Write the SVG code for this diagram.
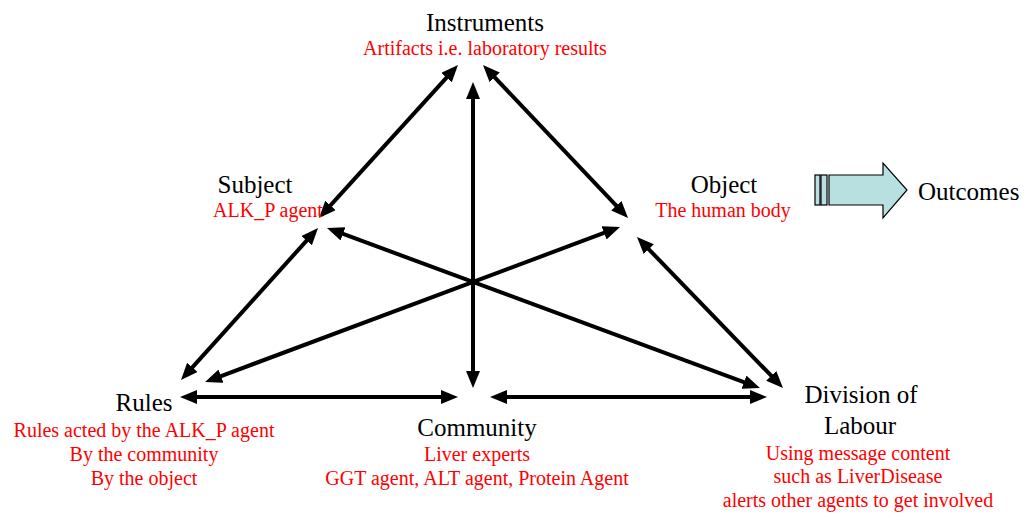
<svg xmlns="http://www.w3.org/2000/svg" width="1024" height="513" viewBox="0 0 1024 513">
  <style>
    .title { font-family: "Liberation Serif", "Times New Roman", serif; font-size: 25px; fill: #000; text-anchor: middle; }
    .note { font-family: "Liberation Serif", "Times New Roman", serif; font-size: 20px; fill: #ff0000; text-anchor: middle; }
    .link { stroke: #000; stroke-width: 4; fill: none; marker-start: url(#head); marker-end: url(#head); }
    .block { fill: #b8e0e0; stroke: #000; stroke-width: 1.2; }
  </style>
  <defs>
    <marker id="head" markerUnits="userSpaceOnUse" markerWidth="17" markerHeight="14" refX="2" refY="7" orient="auto-start-reverse">
      <path d="M0,0 L17,7 L0,14 Z" fill="#000"/>
    </marker>
  </defs>
  <rect width="1024" height="513" fill="#fff"/>

  <g id="connectors">
    <line class="link" x1="447.9" y1="76.1" x2="329.1" y2="206.9"/>
    <line class="link" x1="493.3" y1="75.9" x2="617.7" y2="207.1"/>
    <line class="link" x1="473" y1="97" x2="473" y2="373"/>
    <line class="link" x1="308.0" y1="239.1" x2="191.0" y2="368.9"/>
    <line class="link" x1="647.4" y1="247.8" x2="772.6" y2="377.2"/>
    <line class="link" x1="341.1" y1="233.2" x2="745.9" y2="382.8"/>
    <line class="link" x1="606.0" y1="232.2" x2="219.1" y2="376.8"/>
    <line class="link" x1="195" y1="397" x2="443" y2="397"/>
    <line class="link" x1="505" y1="397" x2="752" y2="397"/>
  </g>

  <g id="instruments">
    <text class="title" x="485" y="31">Instruments</text>
    <text class="note" x="485" y="55">Artifacts i.e. laboratory results</text>
  </g>

  <g id="subject">
    <text class="title" x="255" y="193">Subject</text>
    <text class="note" x="268" y="217">ALK_P agent</text>
  </g>

  <g id="object">
    <text class="title" x="724" y="193">Object</text>
    <text class="note" x="723" y="217">The human body</text>
  </g>

  <g id="outcomes">
    <rect class="block" x="815" y="175" width="5" height="30"/>
    <rect class="block" x="821" y="175" width="6" height="30"/>
    <path class="block" d="M829,175 H883 V163 L907,190 L883,218 V205 H829 Z"/>
    <text class="title" x="918" y="200" style="text-anchor:start">Outcomes</text>
  </g>

  <g id="rules">
    <text class="title" x="144" y="411">Rules</text>
    <text class="note" x="144" y="437">Rules acted by the ALK_P agent</text>
    <text class="note" x="144" y="461">By the community</text>
    <text class="note" x="144" y="485">By the object</text>
  </g>

  <g id="community">
    <text class="title" x="477" y="436">Community</text>
    <text class="note" x="477" y="461">Liver experts</text>
    <text class="note" x="477" y="485">GGT agent, ALT agent, Protein Agent</text>
  </g>

  <g id="division-of-labour">
    <text class="title" x="861" y="403">Division of</text>
    <text class="title" x="860" y="434">Labour</text>
    <text class="note" x="858" y="460">Using message content</text>
    <text class="note" x="858" y="483">such as LiverDisease</text>
    <text class="note" x="858" y="507">alerts other agents to get involved</text>
  </g>
</svg>
